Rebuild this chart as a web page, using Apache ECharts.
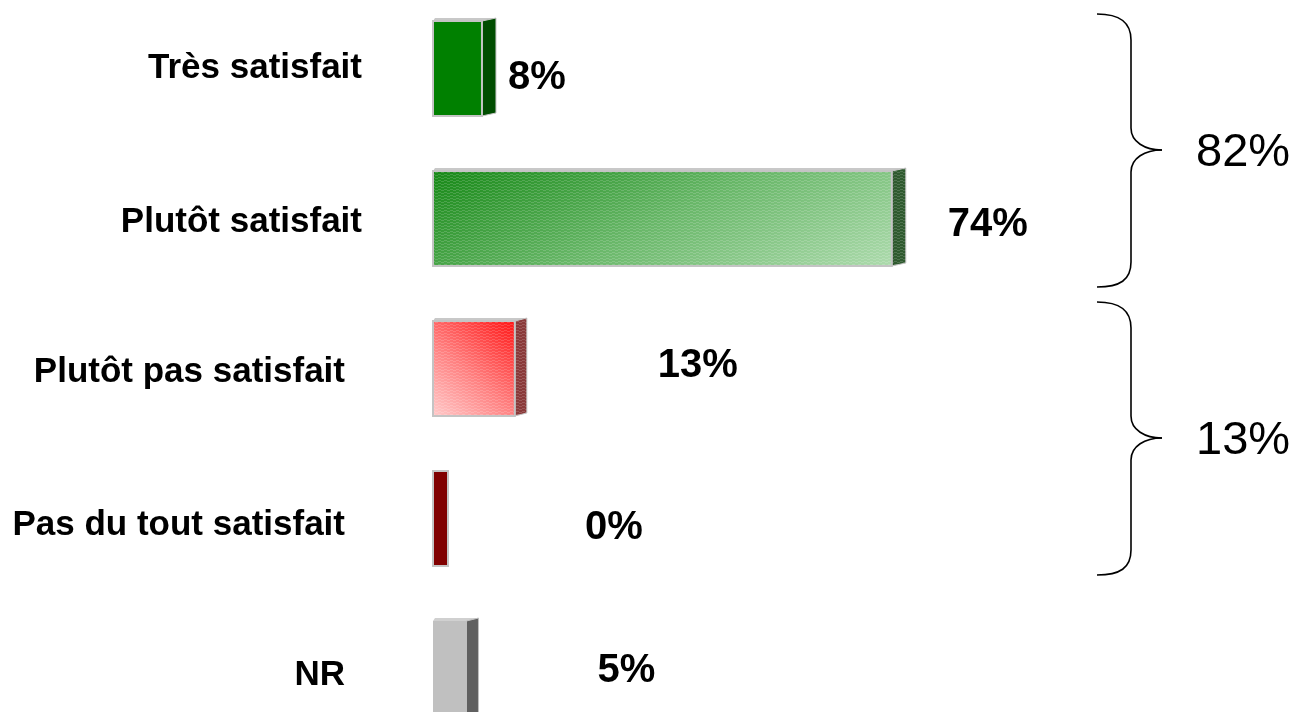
<!DOCTYPE html>
<html>
<head>
<meta charset="utf-8">
<script src="https://cdn.jsdelivr.net/npm/echarts@6/dist/echarts.min.js"></script>
<style>
	html, body { margin: 0; padding: 0; background: #ffffff; }
	#satisfaction { width: 1296px; height: 712px; }
</style>
</head>
<body>
<div id="satisfaction"></div>
<script>
/*-----数据 S------*/
var categories = ['Très satisfait', 'Plutôt satisfait', 'Plutôt pas satisfait', 'Pas du tout satisfait', 'NR'];
var percentValues = [7.9, 74, 13.2, 0, 5.4];
var groupMembers = [[0, 1], [2, 3]];
/*-----数据 E------*/

/*-----样式 S------*/
function linear(x, y, x2, y2, stops){
	return {type: 'linear', x: x, y: y, x2: x2, y2: y2, colorStops: stops};
}
// petite trame hachurée posée sur les faces
function makeHatch(){
	var c = document.createElement('canvas');
	c.width = 6;
	c.height = 3;
	var ctx = c.getContext('2d');
	ctx.fillStyle = 'rgba(255,255,255,0.16)';
	ctx.fillRect(0, 0, 3, 1);
	ctx.fillRect(3, 1, 3, 1);
	return {image: c, repeat: 'repeat'};
}
var hatch = makeHatch();
var barStyles = [
	{front: '#008000', side: '#004d00', top: '#c8c8c8', border: '#c4c4c4', depth: 14, hatch: false},
	{front: linear(0, 0, 0.27, 2.7, [{offset: 0, color: '#168816'}, {offset: 0.5, color: '#6ab86a'}, {offset: 1, color: '#b0dcb0'}]), side: '#2f5a2f', top: '#c8c8c8', border: '#c4c4c4', depth: 14, hatch: true},
	{front: linear(1, 0, 0, 1, [{offset: 0, color: '#ff1414'}, {offset: 0.55, color: '#ff8080'}, {offset: 1, color: '#ffcccc'}]), side: '#8a3a3a', top: '#c8c8c8', border: '#c4c4c4', depth: 12, hatch: true},
	{front: '#800000', side: '#800000', top: '#c8c8c8', border: '#c4c4c4', depth: 0, hatch: false},
	{front: '#c0c0c0', side: '#606060', top: '#d0d0d0', border: '#c0c0c0', depth: 12, hatch: false}
];
// position du libellé par rapport à la fin de la barre [ecart, decalage vertical]
var labelPos = [[26, 9], [56, 6], [143, -3], [137, 9], [131, 2]];
// décalage des libellés de catégorie [haut, droite]
var catPadding = [[0, 0], [8, 0], [8, 17], [14, 17], [14, 17]];
// accolades [haut, pointe, bas] en pixels
var braceBoxes = [[14, 150, 287], [302, 438, 575]];
/*-----样式 E------*/

function renderBar(params, api){
	var idx = params.dataIndex;
	var end = api.coord([api.value(0), idx]);
	var start = api.coord([0, idx]);
	var h = api.size([0, 1])[1] * 0.633;
	var x0 = start[0];
	var x1 = Math.max(end[0], x0 + 15);
	var y0 = end[1] - h / 2;
	var y1 = end[1] + h / 2;
	var st = barStyles[idx];
	var dx = st.depth, dy = st.depth ? 3 : 0;
	var children = [];
	if(dx > 0){
		children.push({
			type: 'polygon',
			shape: {points: [[x0, y0], [x0 + 2, y0 - dy], [x1 + dx, y0 - dy], [x1, y0]]},
			style: {fill: st.top}
		});
		children.push({
			type: 'polygon',
			shape: {points: [[x1, y0], [x1 + dx, y0 - dy], [x1 + dx, y1 - dy], [x1, y1]]},
			style: {fill: st.side, stroke: st.border, lineWidth: 1}
		});
		if(st.hatch){
			children.push({
				type: 'polygon',
				shape: {points: [[x1, y0], [x1 + dx, y0 - dy], [x1 + dx, y1 - dy], [x1, y1]]},
				style: {fill: hatch}
			});
		}
	}
	children.push({
		type: 'rect',
		shape: {x: x0, y: y0, width: x1 - x0, height: h},
		style: {fill: st.front, stroke: st.border, lineWidth: idx === 4 ? 0 : 2}
	});
	if(st.hatch){
		children.push({
			type: 'rect',
			shape: {x: x0 + 1, y: y0 + 1, width: x1 - x0 - 2, height: h - 2},
			style: {fill: hatch}
		});
	}
	children.push({
		type: 'text',
		x: x1 + labelPos[idx][0],
		y: end[1] + labelPos[idx][1],
		style: {
			text: Math.round(api.value(0)) + '%',
			fontSize: 40,
			fontWeight: 'bold',
			fontFamily: 'Liberation Sans, Arial, sans-serif',
			fill: '#000000',
			verticalAlign: 'middle',
			align: 'left'
		}
	});
	return {type: 'group', children: children};
}

function makeBrace(top, mid, bottom, text){
	var xl = 1097, xv = 1131, xt = 1162;
	var st = {stroke: '#000000', lineWidth: 1.6, fill: null};
	return {
		type: 'group',
		children: [
			{type: 'bezierCurve', shape: {x1: xl, y1: top, cpx1: 1120, cpy1: top, cpx2: xv, cpy2: top + 8, x2: xv, y2: top + 26}, style: st},
			{type: 'line', shape: {x1: xv, y1: top + 26, x2: xv, y2: mid - 22}, style: st},
			{type: 'bezierCurve', shape: {x1: xv, y1: mid - 22, cpx1: xv, cpy1: mid - 8, cpx2: 1145, cpy2: mid, x2: xt, y2: mid}, style: st},
			{type: 'bezierCurve', shape: {x1: xt, y1: mid, cpx1: 1145, cpy1: mid, cpx2: xv, cpy2: mid + 8, x2: xv, y2: mid + 22}, style: st},
			{type: 'line', shape: {x1: xv, y1: mid + 22, x2: xv, y2: bottom - 25}, style: st},
			{type: 'bezierCurve', shape: {x1: xv, y1: bottom - 25, cpx1: xv, cpy1: bottom - 7, cpx2: 1120, cpy2: bottom, x2: xl, y2: bottom}, style: st},
			{
				type: 'text',
				x: 1196,
				y: mid + 3,
				style: {text: text, fontSize: 47, fontFamily: 'Liberation Sans, Arial, sans-serif', fill: '#000000', verticalAlign: 'middle'}
			}
		]
	};
}

/*-----满意度表格 S------*/
function drawSatisfactionTable(id){
	var rich = {};
	for(var i = 0; i < categories.length; i++){
		rich['c' + i] = {
			fontSize: 35,
			fontWeight: 'bold',
			fontFamily: 'Liberation Sans, Arial, sans-serif',
			color: '#000000',
			padding: [catPadding[i][0], catPadding[i][1], 0, 0]
		};
	}
	var braces = [];
	for(var g = 0; g < groupMembers.length; g++){
		var sum = 0;
		for(var k = 0; k < groupMembers[g].length; k++){
			sum += Math.round(percentValues[groupMembers[g][k]]);
		}
		braces.push(makeBrace(braceBoxes[g][0], braceBoxes[g][1], braceBoxes[g][2], sum + '%'));
	}
	var seriesData = [];
	for(var j = 0; j < percentValues.length; j++){
		seriesData.push([percentValues[j], j]);
	}
	var option = {
		animation: false,
		grid: {
			left: 433,
			top: -6.5,
			width: 620,
			height: 750,
			containLabel: false,
			outerBoundsMode: 'none'
		},
		xAxis: {
			type: 'value',
			min: 0,
			max: 100,
			show: false
		},
		yAxis: {
			type: 'category',
			inverse: true,
			data: categories,
			axisLine: {show: false},
			axisTick: {show: false},
			splitLine: {show: false},
			axisLabel: {
				margin: 71,
				fontSize: 35,
				fontWeight: 'bold',
				fontFamily: 'Liberation Sans, Arial, sans-serif',
				color: '#000000',
				formatter: function(value, index){
					return '{c' + index + '|' + value + '}';
				},
				rich: rich
			}
		},
		series: [
			{
				name: 'Satisfaction',
				type: 'custom',
				renderItem: renderBar,
				encode: {x: 0, y: 1},
				data: seriesData
			}
		],
		graphic: braces
	};
	echarts.init(document.getElementById(id)).setOption(option, true);
}
/*-----满意度表格 E------*/

drawSatisfactionTable('satisfaction');
</script>
</body>
</html>
